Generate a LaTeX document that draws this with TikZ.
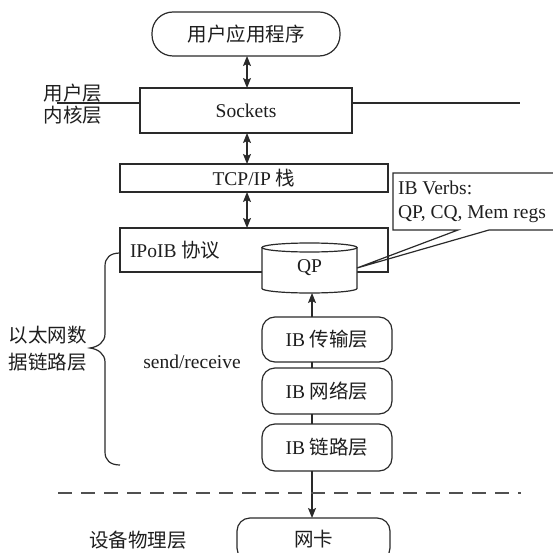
\documentclass[tikz,border=0pt]{standalone}
\usepackage{fontspec}
\setmainfont{Liberation Serif}
\newfontfamily\cjk{Noto Sans CJK SC}
\usetikzlibrary{arrows.meta}
\newcommand{\zh}[1]{{\cjk #1}}
\definecolor{ink}{HTML}{1E1E1E}
\definecolor{rule}{HTML}{2A2A2A}
\definecolor{dashgray}{HTML}{505050}

\begin{document}
\begin{tikzpicture}[x=1pt,y=-1pt,
  every node/.style={inner sep=0pt, outer sep=0pt, text=ink,
    font=\rmfamily\fontsize{19.5}{24}\selectfont},
  frame/.style={draw=rule, line width=1.2pt, rectangle, fill=white},
  pill/.style={frame, rounded corners=13pt},
  link/.style={draw=rule, line width=1.2pt},
  head/.tip={Stealth[length=10pt,width=8pt,inset=2pt]},
  tip/.style={link, -head},
  both/.style={link, head-head},
]
\useasboundingbox (0,0) rectangle (552,553);

% stems of the vertical connectors
\coordinate (stem) at (247,0);
\coordinate (ibstem) at (312,0);

% user / kernel boundary
\coordinate (ukl) at (57,103);
\coordinate (ukr) at (520,103);

% upper stack
\node[pill, rounded corners=21pt, minimum width=188, minimum height=44] (app) at (246,34) {\zh{用户应用程序}};
\node[frame, minimum width=212, minimum height=45] (sock) at (246,110.5) {Sockets};
\node[frame, minimum width=268, minimum height=28] (tcp) at (254,178) {TCP/IP \zh{栈}};
\node[frame, minimum width=268, minimum height=44] (ipoib) at (254,250) {};
\node[anchor=west] (ipoibtxt) at (130,250) {IPoIB \zh{协议}};

\draw[link] (ukl) -- (sock.west |- ukl);
\draw[link] (sock.east |- ukr) -- (ukr);
\node (user) at (73,93) {\zh{用户层}};
\node (kernel) at (73,115) {\zh{内核层}};

\draw[both] (app.south -| stem) -- (sock.north -| stem);
\draw[both] (sock.south -| stem) -- (tcp.north -| stem);
\draw[both] (tcp.south -| stem) -- (ipoib.north -| stem);

% queue pair drum
\filldraw[fill=white, draw=rule, line width=1.2pt]
  (262,247.5) -- (262,288.5) arc[start angle=180, end angle=0, x radius=47.5, y radius=4.5] -- (357,247.5);
\draw[rule, line width=1.2pt] (309.5,247.5) ellipse[x radius=47.5, y radius=4.5];
\node[minimum width=95, minimum height=50] (qp) at (309.5,268) {QP};

% verbs callout
\node[anchor=base west] (verbs1) at (398,194.5) {IB Verbs:};
\node[anchor=base west] (verbs2) at (398,218.5) {QP, CQ, Mem regs};
\draw[link, line join=miter] (458,230) -- (393,230) -- (393,173) -- (560,173) -- (560,230) -- (489,230) -- (qp.east) -- cycle;

% InfiniBand layers
\node[pill, minimum width=130, minimum height=45] (tr) at (327,339.5) {IB \zh{传输层}};
\node[pill, minimum width=130, minimum height=46] (nw) at (327,391) {IB \zh{网络层}};
\node[pill, minimum width=130, minimum height=47] (lk) at (327,447.5) {IB \zh{链路层}};
\node[pill, minimum width=153, minimum height=43] (nic) at (313.5,539.5) {\zh{网卡}};

\draw[tip] (tr.north -| ibstem) -- (qp.south -| ibstem);
\draw[link] (tr.south -| ibstem) -- (nw.north -| ibstem);
\draw[link] (nw.south -| ibstem) -- (lk.north -| ibstem);
\draw[tip] (lk.south -| ibstem) -- (nic.north -| ibstem);

\node (sr) at (192,362) {send/receive};

% ethernet data-link brace
\draw[link] (120,253) .. controls (110,253) and (105,258) .. (105,266) -- (105,334)
  .. controls (105,342) and (98,347) .. (90,348)
  .. controls (98,349) and (105,354) .. (105,362) -- (105,452)
  .. controls (105,460) and (110,465) .. (120,465);
\node (eth1) at (48,335) {\zh{以太网数}};
\node (eth2) at (48,362) {\zh{据链路层}};

% hardware boundary
\coordinate (hwl) at (58,493);
\coordinate (hwr) at (521,493);
\draw[dashgray, line width=1.2pt, dash pattern=on 14pt off 9pt] (hwl) -- (hwr);
\node (phy) at (138,540) {\zh{设备物理层}};
\end{tikzpicture}
\end{document}
